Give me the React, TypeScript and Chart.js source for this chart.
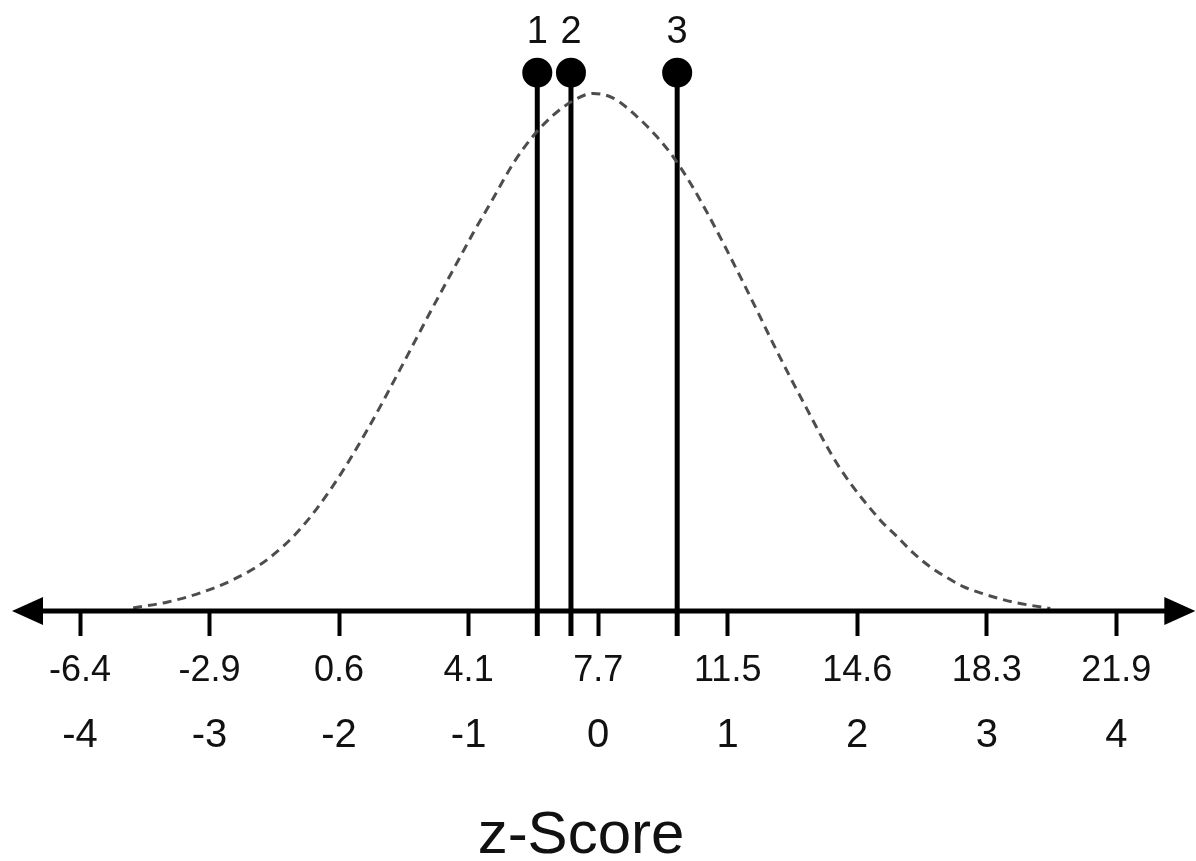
import React, { useEffect, useRef } from 'react';
import { Chart, registerables } from 'chart.js';

Chart.register(...registerables);

// ---- data ----
const zTicks = [-4, -3, -2, -1, 0, 1, 2, 3, 4];
const rawTickLabels = ['-6.4', '-2.9', '0.6', '4.1', '7.7', '11.5', '14.6', '18.3', '21.9'];
const zTickLabels = ['-4', '-3', '-2', '-1', '0', '1', '2', '3', '4'];

const curveZ = [
  -3.59, -3.33, -3.07, -2.82, -2.56, -2.3, -2.05, -1.78, -1.53, -1.3, -1.12, -0.965, -0.81, -0.656,
  -0.502, -0.347, -0.193, -0.04, 0.116, 0.301, 0.456, 0.579, 0.71, 0.842, 0.965, 1.097, 1.228,
  1.351, 1.483, 1.614, 1.737, 1.869, 2.178, 2.309, 2.432, 2.564, 2.695, 2.819, 2.95, 3.081, 3.205,
  3.336, 3.49,
];
const curveDensity = [
  0.006, 0.017, 0.035, 0.06, 0.098, 0.158, 0.24, 0.35, 0.465, 0.574, 0.657, 0.728, 0.795, 0.862,
  0.915, 0.955, 0.983, 0.997, 0.988, 0.952, 0.913, 0.875, 0.825, 0.767, 0.709, 0.644, 0.578, 0.515,
  0.45, 0.388, 0.33, 0.274, 0.175, 0.143, 0.112, 0.085, 0.064, 0.047, 0.035, 0.025, 0.017, 0.011,
  0.005,
];

const markerZ = [-0.47, -0.21, 0.61];
const markerLabels = ['1', '2', '3'];

const axisTitle = 'z-Score';

// ---- layout constants ----
const X_MIN = -4.525;
const X_MAX = 4.26;
const ARROW_RIGHT = 4.61;
const Y_MAX = 1.15;
const STEM_BOTTOM = -0.048;
const DOT_LEVEL = 1.037;
const LABEL_LEVEL = 1.114;
const FONT = '"Liberation Sans", Arial, Helvetica, sans-serif';

const axisArrowPlugin = {
  id: 'axisArrow',
  afterDatasetsDraw(chart: any) {
    const { ctx, chartArea } = chart;
    const xs = chart.scales.x;
    const y = chartArea.bottom;
    const left = xs.getPixelForValue(X_MIN);
    const right = xs.getPixelForValue(ARROW_RIGHT);
    const len = 31;
    const half = 14;
    ctx.save();
    ctx.strokeStyle = '#000';
    ctx.lineWidth = 5;
    ctx.beginPath();
    ctx.moveTo(left + len - 2, y);
    ctx.lineTo(right - len + 2, y);
    ctx.stroke();
    ctx.fillStyle = '#000';
    ctx.beginPath();
    ctx.moveTo(left, y);
    ctx.lineTo(left + len, y - half);
    ctx.lineTo(left + len, y + half);
    ctx.closePath();
    ctx.fill();
    ctx.beginPath();
    ctx.moveTo(right, y);
    ctx.lineTo(right - len, y - half);
    ctx.lineTo(right - len, y + half);
    ctx.closePath();
    ctx.fill();
    ctx.restore();
  },
};

const markerLabelPlugin = {
  id: 'markerLabels',
  afterDatasetsDraw(chart: any) {
    const { ctx } = chart;
    const xs = chart.scales.x;
    const ys = chart.scales.y;
    ctx.save();
    ctx.fillStyle = '#111';
    ctx.font = `38px ${FONT}`;
    ctx.textAlign = 'center';
    ctx.textBaseline = 'middle';
    markerZ.forEach((z, i) => {
      ctx.fillText(markerLabels[i], xs.getPixelForValue(z), ys.getPixelForValue(LABEL_LEVEL));
    });
    ctx.restore();
  },
};

export default function App() {
  const canvasRef = useRef<HTMLCanvasElement | null>(null);

  useEffect(() => {
    if (!canvasRef.current) return;
    const setTicks = (s: any) => {
      s.ticks = zTicks.map((v) => ({ value: v }));
    };
    const chart = new Chart(canvasRef.current, {
      type: 'line',
      data: {
        datasets: [
          {
            data: curveZ.map((z, i) => ({ x: z, y: curveDensity[i] })),
            xAxisID: 'x',
            yAxisID: 'y',
            borderColor: '#4d4d4d',
            borderWidth: 3,
            borderDash: [9, 6],
            pointRadius: 0,
            cubicInterpolationMode: 'monotone',
            fill: false,
          } as any,
          ...markerZ.map(
            (z) =>
              ({
                data: [
                  { x: z, y: STEM_BOTTOM },
                  { x: z, y: DOT_LEVEL },
                ],
                xAxisID: 'x',
                yAxisID: 'y',
                borderColor: '#000',
                borderWidth: 5,
                pointRadius: [0, 15],
                pointBackgroundColor: '#000',
                pointBorderWidth: 0,
                clip: false,
              }) as any
          ),
        ],
      },
      options: {
        responsive: false,
        animation: false,
        events: [],
        layout: { autoPadding: false, padding: { left: 12, right: 46, top: 14, bottom: 0 } },
        plugins: { legend: { display: false }, tooltip: { enabled: false } },
        scales: {
          x: {
            type: 'linear',
            position: 'bottom',
            min: X_MIN,
            max: X_MAX,
            weight: 0,
            afterBuildTicks: setTicks,
            afterFit: (s: any) => {
              s.height = 89;
            },
            grid: {
              display: true,
              drawOnChartArea: false,
              drawTicks: true,
              tickLength: 25,
              tickWidth: 4,
              tickColor: '#000',
            },
            border: { display: false },
            ticks: {
              autoSkip: false,
              maxRotation: 0,
              padding: 13,
              color: '#111',
              font: { family: FONT, size: 36 },
              callback: (_v: any, i: number) => rawTickLabels[i],
            },
          },
          x2: {
            type: 'linear',
            position: 'bottom',
            min: X_MIN,
            max: X_MAX,
            weight: 1,
            afterBuildTicks: setTicks,
            afterFit: (s: any) => {
              s.height = 161;
            },
            grid: { display: false },
            border: { display: false },
            ticks: {
              autoSkip: false,
              maxRotation: 0,
              padding: 4,
              color: '#111',
              font: { family: FONT, size: 40 },
              callback: (_v: any, i: number) => zTickLabels[i],
            },
            title: {
              display: true,
              text: axisTitle,
              color: '#111',
              font: { family: FONT, size: 60, lineHeight: 1 },
              padding: { top: 0, bottom: -5 },
            },
          },
          y: { display: false, min: 0, max: Y_MAX },
        },
      } as any,
      plugins: [axisArrowPlugin, markerLabelPlugin],
    });
    return () => chart.destroy();
  }, []);

  return (
    <div style={{ position: 'fixed', left: 0, top: 0, width: 1196, height: 861, background: '#fff' }}>
      <canvas ref={canvasRef} width={1196} height={861} />
    </div>
  );
}
